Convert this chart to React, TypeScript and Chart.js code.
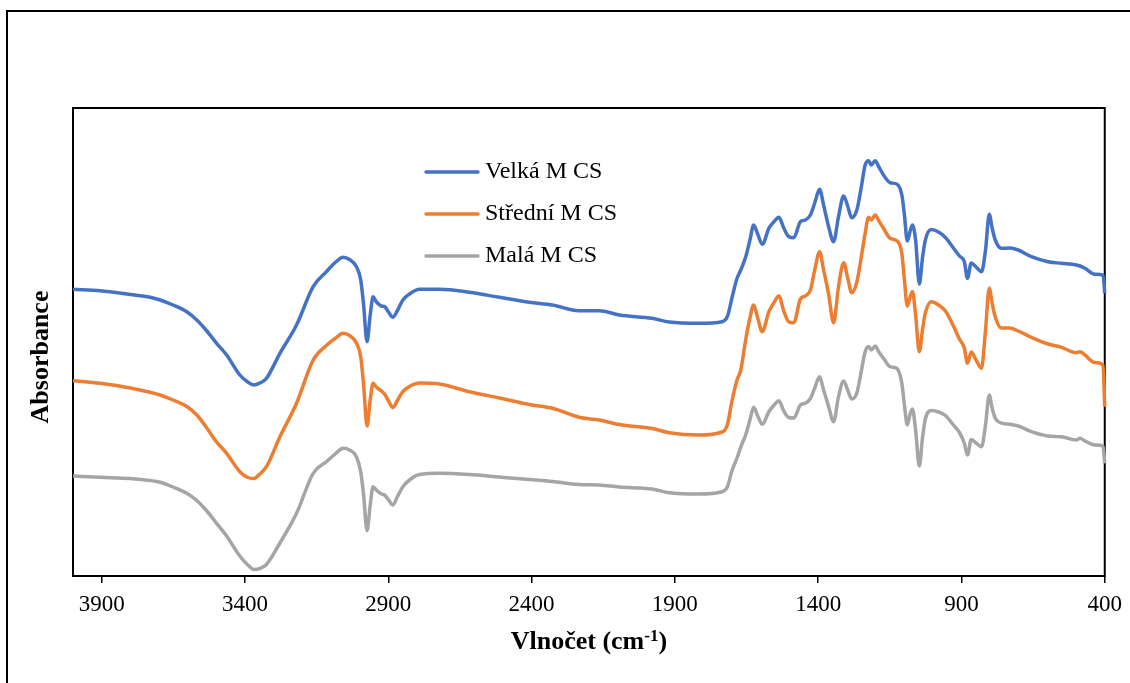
import React, { useEffect, useRef } from "react";
import { Chart, registerables } from "chart.js";

Chart.register(...registerables);

// Wavenumber (cm-1) sampling points, shared by all three spectra
const wavenumbers = [
  4000, 3905, 3800, 3731, 3696, 3651, 3603, 3568, 3533, 3499,
  3464, 3418, 3390, 3369, 3348, 3325, 3278, 3220, 3162, 3116,
  3083, 3058, 3035, 3011, 2996, 2986, 2974, 2963, 2953, 2942,
  2924, 2913, 2899, 2884, 2867, 2849, 2826, 2791, 2721, 2617,
  2512, 2408, 2327, 2234, 2164, 2094, 1979, 1920, 1816, 1735,
  1717, 1700, 1683, 1670, 1653, 1638, 1625, 1611, 1595, 1572,
  1555, 1537, 1520, 1503, 1485, 1462, 1445, 1427, 1412, 1395,
  1381, 1364, 1346, 1329, 1311, 1297, 1283, 1265, 1250, 1236,
  1224, 1215, 1201, 1188, 1172, 1149, 1126, 1108, 1099, 1089,
  1078, 1071, 1060, 1047, 1036, 1026, 1005, 980, 956, 928,
  907, 890, 879, 866, 849, 830, 816, 803, 793, 782,
  761, 731, 702, 656, 598, 551, 499, 486, 469, 435,
  406, 400,
];

const velka = [
  2.867, 2.853, 2.815, 2.787, 2.760, 2.710, 2.643, 2.560, 2.450, 2.327,
  2.210, 2.010, 1.940, 1.910, 1.930, 1.977, 2.227, 2.510, 2.893, 3.043,
  3.140, 3.187, 3.165, 3.093, 2.960, 2.710, 2.343, 2.610, 2.793, 2.743,
  2.700, 2.695, 2.640, 2.587, 2.660, 2.760, 2.820, 2.867, 2.867, 2.837,
  2.787, 2.737, 2.710, 2.653, 2.653, 2.610, 2.577, 2.540, 2.527, 2.543,
  2.593, 2.790, 2.977, 3.060, 3.190, 3.360, 3.510, 3.420, 3.317, 3.477,
  3.540, 3.587, 3.480, 3.395, 3.383, 3.543, 3.560, 3.610, 3.730, 3.867,
  3.710, 3.500, 3.343, 3.593, 3.800, 3.700, 3.583, 3.660, 3.880, 4.110,
  4.153, 4.110, 4.153, 4.090, 4.010, 3.933, 3.920, 3.810, 3.610, 3.350,
  3.460, 3.510, 3.360, 2.920, 3.180, 3.360, 3.465, 3.440, 3.385, 3.280,
  3.200, 3.143, 2.977, 3.130, 3.090, 3.043, 3.260, 3.617, 3.480, 3.360,
  3.277, 3.280, 3.260, 3.193, 3.143, 3.127, 3.110, 3.100, 3.077, 3.017,
  3.010, 2.827,
];

const stredni = [
  1.953, 1.927, 1.880, 1.837, 1.810, 1.760, 1.695, 1.610, 1.480, 1.340,
  1.227, 1.043, 0.985, 0.975, 1.020, 1.093, 1.393, 1.727, 2.160, 2.305,
  2.380, 2.427, 2.405, 2.330, 2.190, 1.910, 1.500, 1.760, 1.927, 1.890,
  1.850, 1.820, 1.750, 1.683, 1.760, 1.843, 1.895, 1.930, 1.920, 1.843,
  1.780, 1.715, 1.677, 1.587, 1.560, 1.515, 1.475, 1.433, 1.410, 1.440,
  1.510, 1.760, 1.960, 2.060, 2.360, 2.580, 2.710, 2.580, 2.443, 2.643,
  2.730, 2.800, 2.650, 2.543, 2.533, 2.770, 2.800, 2.860, 3.060, 3.243,
  3.060, 2.827, 2.533, 2.893, 3.133, 2.980, 2.833, 2.940, 3.180, 3.427,
  3.587, 3.560, 3.610, 3.550, 3.477, 3.377, 3.353, 3.227, 2.960, 2.700,
  2.800, 2.845, 2.610, 2.243, 2.460, 2.630, 2.743, 2.710, 2.650, 2.500,
  2.370, 2.280, 2.127, 2.240, 2.160, 2.077, 2.460, 2.877, 2.730, 2.590,
  2.480, 2.480, 2.450, 2.387, 2.320, 2.287, 2.233, 2.243, 2.210, 2.135,
  2.110, 1.693,
];

const mala = [
  1.000, 0.987, 0.975, 0.955, 0.937, 0.890, 0.827, 0.755, 0.650, 0.527,
  0.400, 0.200, 0.110, 0.065, 0.075, 0.115, 0.330, 0.627, 1.027, 1.143,
  1.225, 1.277, 1.260, 1.193, 1.040, 0.810, 0.453, 0.710, 0.893, 0.860,
  0.820, 0.810, 0.760, 0.710, 0.800, 0.893, 0.960, 1.015, 1.027, 1.015,
  0.990, 0.965, 0.945, 0.915, 0.910, 0.890, 0.870, 0.833, 0.820, 0.843,
  0.890, 1.060, 1.180, 1.290, 1.410, 1.560, 1.687, 1.600, 1.517, 1.643,
  1.705, 1.753, 1.650, 1.585, 1.580, 1.710, 1.727, 1.775, 1.880, 1.993,
  1.860, 1.700, 1.543, 1.793, 1.950, 1.860, 1.770, 1.830, 2.040, 2.243,
  2.295, 2.260, 2.300, 2.240, 2.177, 2.093, 2.077, 1.927, 1.710, 1.510,
  1.630, 1.670, 1.460, 1.100, 1.380, 1.570, 1.655, 1.640, 1.605, 1.510,
  1.435, 1.327, 1.210, 1.365, 1.330, 1.293, 1.510, 1.810, 1.680, 1.577,
  1.530, 1.517, 1.500, 1.443, 1.400, 1.393, 1.360, 1.377, 1.350, 1.310,
  1.300, 1.127,
];

const seriesLabels = ["Velká M CS", "Střední M CS", "Malá M CS"];
const seriesColors = ["#4472C4", "#ED7D31", "#A5A5A5"];
const xTickValues = [3900, 3400, 2900, 2400, 1900, 1400, 900, 400];
const xTitleMain = "Vlnočet (cm";
const xTitleSup = "-1";
const xTitleEnd = ")";
const yTitle = "Absorbance";

const SERIF = "'Liberation Serif', 'Times New Roman', serif";

const borderPlugin = {
  id: "plotBorder",
  beforeDatasetsDraw(chart: any) {
    const { ctx, chartArea: a } = chart;
    ctx.save();
    ctx.strokeStyle = "#000";
    ctx.lineWidth = 2;
    ctx.strokeRect(a.left, a.top, a.right - a.left, a.bottom - a.top);
    ctx.restore();
  },
};

const decorPlugin = {
  id: "decor",
  afterDraw(chart: any) {
    const { ctx, chartArea: a } = chart;
    ctx.save();
    // outer frame
    ctx.strokeStyle = "#000";
    ctx.lineWidth = 2;
    ctx.beginPath();
    ctx.moveTo(7, 700);
    ctx.lineTo(7, 11);
    ctx.lineTo(1140, 11);
    ctx.stroke();

    // legend inside plot
    ctx.font = `24px ${SERIF}`;
    ctx.textBaseline = "middle";
    ctx.textAlign = "left";
    seriesLabels.forEach((label, i) => {
      const y = 172 + i * 42;
      ctx.strokeStyle = seriesColors[i];
      ctx.lineWidth = 3.5;
      ctx.lineCap = "round";
      ctx.beginPath();
      ctx.moveTo(426, y);
      ctx.lineTo(478, y);
      ctx.stroke();
      ctx.fillStyle = "#000";
      ctx.fillText(label, 485, y);
    });

    // y title
    ctx.save();
    ctx.translate(41, (a.top + a.bottom) / 2 + 15);
    ctx.rotate(-Math.PI / 2);
    ctx.font = `bold 26px ${SERIF}`;
    ctx.textAlign = "center";
    ctx.textBaseline = "middle";
    ctx.fillStyle = "#000";
    ctx.fillText(yTitle, 0, 0);
    ctx.restore();

    // x title with superscript
    const mainFont = `bold 26px ${SERIF}`;
    const supFont = `bold 17px ${SERIF}`;
    ctx.font = mainFont;
    const w1 = ctx.measureText(xTitleMain).width;
    const w3 = ctx.measureText(xTitleEnd).width;
    ctx.font = supFont;
    const w2 = ctx.measureText(xTitleSup).width;
    const total = w1 + w2 + w3;
    const cx = (a.left + a.right) / 2;
    let x = cx - total / 2;
    const base = 649;
    ctx.textAlign = "left";
    ctx.textBaseline = "alphabetic";
    ctx.fillStyle = "#000";
    ctx.font = mainFont;
    ctx.fillText(xTitleMain, x, base);
    x += w1;
    ctx.font = supFont;
    ctx.fillText(xTitleSup, x, base - 8);
    x += w2;
    ctx.font = mainFont;
    ctx.fillText(xTitleEnd, x, base);
    ctx.restore();
  },
};

export default function App() {
  const canvasRef = useRef<HTMLCanvasElement | null>(null);

  useEffect(() => {
    const canvas = canvasRef.current;
    if (!canvas) return;
    const series = [velka, stredni, mala];
    const chart = new Chart(canvas, {
      type: "line",
      data: {
        datasets: series.map((vals, i) => ({
          label: seriesLabels[i],
          data: wavenumbers.map((w, j) => ({ x: w, y: vals[j] })),
          borderColor: seriesColors[i],
          backgroundColor: seriesColors[i],
          borderWidth: 3.5,
          pointRadius: 0,
          cubicInterpolationMode: "monotone" as const,
          fill: false,
          clip: false as any,
        })),
      },
      options: {
        responsive: false,
        animation: false,
        events: [],
        layout: { padding: { left: 73, right: 23, top: 108, bottom: 56.4 } },
        plugins: {
          legend: { display: false },
          tooltip: { enabled: false },
        },
        scales: {
          x: {
            type: "linear",
            reverse: true,
            min: 400,
            max: 4000,
            afterBuildTicks: (scale: any) => {
              scale.ticks = xTickValues.map((v) => ({ value: v }));
            },
            ticks: {
              autoSkip: false,
              maxRotation: 0,
              padding: 8,
              color: "#000",
              font: { family: SERIF, size: 23 },
              callback: (v: any) => String(v),
            },
            grid: {
              drawOnChartArea: false,
              drawTicks: true,
              tickLength: 7,
              color: "#000",
              lineWidth: 1.5,
            },
            border: { display: false },
          },
          y: {
            type: "linear",
            display: false,
            min: 0,
            max: 4.68,
          },
        },
      },
      plugins: [borderPlugin, decorPlugin],
    });
    return () => chart.destroy();
  }, []);

  return (
    <div style={{ position: "absolute", left: 0, top: 0, width: 1130, height: 683, background: "#fff" }}>
      <canvas ref={canvasRef} width={1130} height={683} style={{ display: "block" }} />
    </div>
  );
}
